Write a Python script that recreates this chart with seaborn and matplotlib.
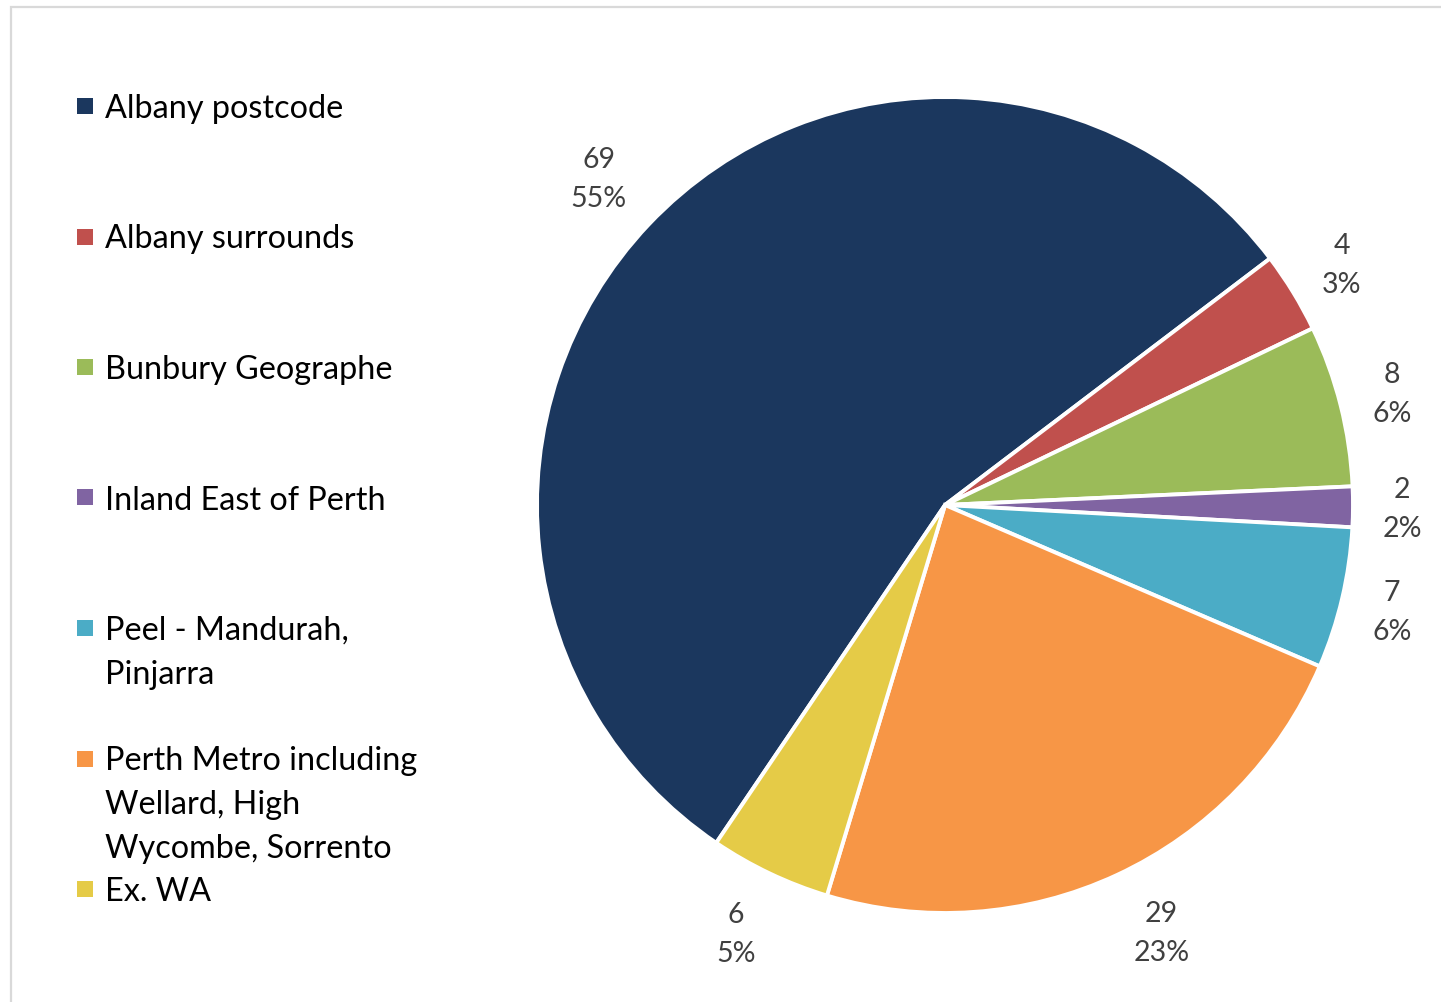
import matplotlib
matplotlib.use("Agg")
import matplotlib.pyplot as plt
import matplotlib.transforms as mtransforms
import seaborn as sns
import numpy as np
from matplotlib.patches import Rectangle

# ---- data ----
categories = [
    "Albany postcode",
    "Albany surrounds",
    "Bunbury Geographe",
    "Inland East of Perth",
    "Peel - Mandurah,\nPinjarra",
    "Perth Metro including\nWellard, High\nWycombe, Sorrento",
    "Ex. WA",
]
counts = [69, 4, 8, 2, 7, 29, 6]
colors = ["#1B375E", "#C0504D", "#9BBB59", "#8064A2", "#4BACC6", "#F79646", "#E5CB47"]

# ---- style ----
sns.set_theme(style="white")
plt.rcParams["font.family"] = ["Lato", "DejaVu Sans"]
palette = sns.color_palette(colors)

W, H = 1441, 1002
fig = plt.figure(figsize=(W / 100, H / 100), dpi=100)
fig.patch.set_facecolor("white")

# pie axes: centre (945,505) px, radius 408 px, limits +-1.2
R = 408.0
half = 1.2 * R
cx, cy = 945.0, 505.0
ax = fig.add_axes([(cx - half) / W, (H - cy - half) / H, 2 * half / W, 2 * half / H])

wedges, _ = ax.pie(
    counts,
    colors=palette,
    startangle=-124.1,
    counterclock=False,
    radius=1.0,
    wedgeprops=dict(edgecolor="white", linewidth=2.8),
)
ax.set_xlim(-1.2, 1.2)
ax.set_ylim(-1.2, 1.2)
ax.set_aspect("equal")
ax.axis("off")

# data labels (best-fit style placement outside the pie)
total = sum(counts)
label_dist = [1.17, 1.14, 1.13, 1.12, 1.125, 1.17, 1.165]
label_nudge = [0, 0, 0, 0, 0, 2.0, -0.6]
lab_tr = mtransforms.offset_copy(ax.transData, fig=fig, x=0, y=-2.5, units="dots")
for w, n, d, nd in zip(wedges, counts, label_dist, label_nudge):
    th = np.deg2rad((w.theta1 + w.theta2) / 2 + nd)
    pct = round(100 * n / total)
    ax.text(d * np.cos(th), d * np.sin(th), f"{n}\n{pct}%",
            ha="center", va="center", fontsize=20.5, color="#404040",
            linespacing=1.62, transform=lab_tr)

# manual legend (marker aligned with first line of each label)
step = 130.5
base0 = 117.0
for i, (lab, col) in enumerate(zip(categories, palette)):
    yb = base0 + i * step
    fig.patches.append(Rectangle((77 / W, 1 - (yb - 3) / H), 16 / W, 16 / H,
                                 transform=fig.transFigure, facecolor=col,
                                 edgecolor="none"))
    fig.text(105 / W, 1 - (yb - 23) / H, lab, ha="left", va="top",
             fontsize=23.3, color="black", linespacing=1.58)

# chart-area border (top and left visible)
fig.patches.append(Rectangle((10.5 / W, -0.1), 1.2, 1.1 - 6.5 / H,
                             transform=fig.transFigure, fill=False,
                             edgecolor="#D9D9D9", linewidth=1.6))

fig.savefig("out.png", dpi=100)
